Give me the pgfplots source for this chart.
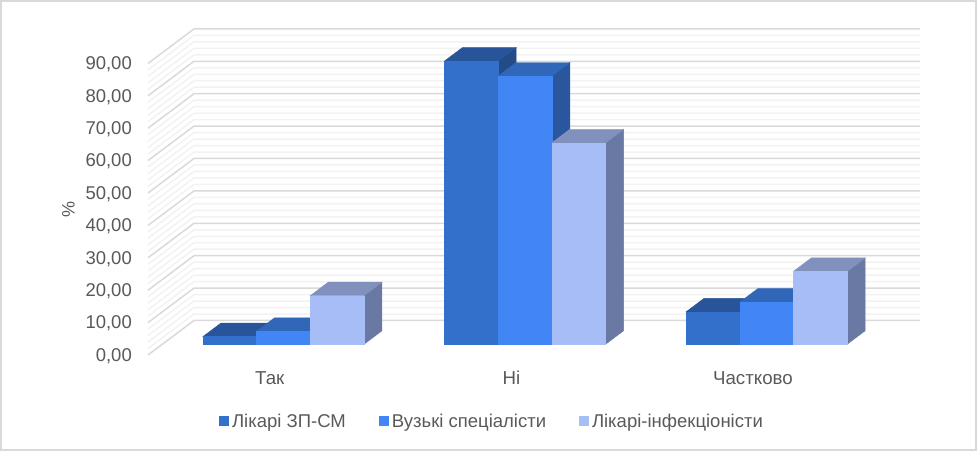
\documentclass[border=0pt]{standalone}
\usepackage{pgfplots}
\pgfplotsset{compat=1.18}
\usepackage{fontspec}
\setmainfont{Liberation Sans}
\definecolor{txt}{HTML}{595959}
\definecolor{gmaj}{HTML}{D9D9D9}
\definecolor{gmin}{HTML}{F2F2F2}
\definecolor{aF}{HTML}{3270CC}\definecolor{aT}{HTML}{285599}\definecolor{aS}{HTML}{234B88}
\definecolor{bF}{HTML}{4285F4}\definecolor{bT}{HTML}{3167B9}\definecolor{bS}{HTML}{29569C}
\definecolor{cF}{HTML}{A6BDF8}\definecolor{cT}{HTML}{8290BE}\definecolor{cS}{HTML}{6A79A3}
\newcommand\wallline[3]{% value, colour, width
  \pgfmathsetmacro\w{#1+10.65}%
  \edef\tmp{\noexpand\addplot[#2,line width=#3,forget plot] coordinates {(148,#1)(194,\w)(920,\w)};}\tmp}
\newcommand\threedbar[3]{% left x, value, colour prefix
  \pgfmathsetmacro\xa{#1}\pgfmathsetmacro\xb{#1+0.2224}%
  \pgfmathsetmacro\xc{#1+0.2969}\pgfmathsetmacro\xd{#1+0.0745}%
  \pgfmathsetmacro\yt{#2+4.17}%
  \edef\tmp{\noexpand\addplot[fill=#3S,draw=#3S,line width=.4bp,forget plot] coordinates {(\xb,0)(\xc,4.17)(\xc,\yt)(\xb,#2)} -- cycle;
    \noexpand\addplot[fill=#3T,draw=#3T,line width=.4bp,forget plot] coordinates {(\xa,#2)(\xb,#2)(\xc,\yt)(\xd,\yt)} -- cycle;
    \noexpand\addplot[fill=#3F,draw=#3F,line width=.4bp,forget plot] coordinates {(\xa,0)(\xb,0)(\xb,#2)(\xa,#2)} -- cycle;}\tmp}
\pgfplotsset{sq/.style={legend image code/.code={\fill[##1] (0bp,-3.5bp) rectangle (9bp,5.5bp);}}}
\begin{document}
\begin{tikzpicture}
\useasboundingbox (0,0) rectangle (977bp,451bp);
\draw[gmaj,line width=2bp] (1bp,1bp) rectangle (976bp,450bp);
\begin{axis}[
  at={(148bp,96bp)},anchor=south west,scale only axis,
  width=772bp,height=291.6bp,
  xmin=148,xmax=920,ymin=0,ymax=90,clip=false,
  axis line style={draw=none},
  major tick length=0pt,
  xtick=\empty,
  ytick={0,10,...,90},
  yticklabel style={/pgf/number format/.cd,fixed,fixed zerofill,precision=2,use comma,assume math mode=true,
    /tikz/.cd,font=\fontsize{18.5bp}{20bp}\selectfont,text=txt,anchor=east,inner sep=0pt,xshift=-16bp,yshift=-1bp},
  ylabel={\%},
  ylabel style={at={(axis description cs:-0.103,0.5)},anchor=center,font=\fontsize{18bp}{20bp}\selectfont,text=txt},
]
\pgfplotsforeachungrouped \v in {2,4,6,8,12,14,16,18,22,24,26,28,32,34,36,38,42,44,46,48,52,54,56,58,62,64,66,68,72,74,76,78,82,84,86,88}{\wallline{\v}{gmin}{1.5bp}}
\pgfplotsforeachungrouped \v in {0,10,20,30,40,50,60,70,80,90}{\wallline{\v}{gmaj}{1.5bp}}
\end{axis}
\begin{axis}[
  at={(162.55bp,106.7bp)},anchor=south west,scale only axis,
  width=724.8bp,height=291.6bp,
  xmin=-0.5,xmax=2.5,ymin=0,ymax=90,clip=false,
  axis line style={draw=none},
  major tick length=0pt,
  ytick=\empty,
  xtick={0,1,2},xticklabels={Так,Ні,Частково},
  xticklabel style={font=\fontsize{18.7bp}{20bp}\selectfont,text=txt,anchor=center,inner sep=0pt,yshift=-33.7bp,xshift=-13.6bp},
  legend columns=3,
  legend cell align=left,
  legend style={at={(rel axis cs:0.0779,-0.2647)},anchor=west,draw=none,fill=none,inner sep=0pt,
    font=\fontsize{18.5bp}{20bp}\selectfont,text=txt,
    /tikz/every odd column/.append style={column sep=1.5bp},
    /tikz/every even column/.append style={column sep=31bp}},
]
\threedbar{-0.3335}{2.35}{a}
\threedbar{-0.1111}{4.0}{b}
\threedbar{0.1113}{15.0}{c}
\threedbar{0.6665}{87.4}{a}
\threedbar{0.8889}{82.8}{b}
\threedbar{1.1113}{62.2}{c}
\threedbar{1.6665}{10.0}{a}
\threedbar{1.8889}{13.0}{b}
\threedbar{2.1113}{22.5}{c}
\addlegendimage{sq,aF}\addlegendentry{Лікарі ЗП-СМ}
\addlegendimage{sq,bF}\addlegendentry{Вузькі спеціалісти}
\addlegendimage{sq,cF}\addlegendentry{Лікарі-інфекціоністи}
\end{axis}
\end{tikzpicture}
\end{document}
